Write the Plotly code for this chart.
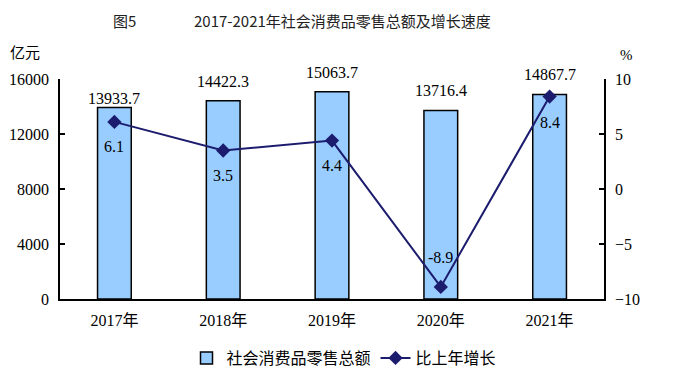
import plotly.graph_objects as go

years = ["2017年", "2018年", "2019年", "2020年", "2021年"]
retail = [13933.7, 14422.3, 15063.7, 13716.4, 14867.7]
growth = [6.1, 3.5, 4.4, -8.9, 8.4]
left_ticks = [0, 4000, 8000, 12000, 16000]
left_tick_text = ["0", "4000", "8000", "12000", "16000"]
right_ticks = [-10, -5, 0, 5, 10]
right_tick_text = ["\u221210", "\u22125", "0", "5", "10"]

# label offsets (pixels, style only)
bar_label_shift = [9, 19, 19, 20, 20]
line_label_shift = [-25, -25, -25, 29, -26]

SERIF = "Liberation Serif, Times New Roman, Noto Sans CJK SC, serif"
CJK = "Noto Sans CJK SC, sans-serif"
NAVY = "#1C1C6E"

OFF = 8  # page body margin
W, H = 691 - OFF, 389 - OFF
L, T = 60 - OFF, 79 - OFF
R = W - (604 - OFF)
B = H - (299 - OFF)
pw, ph = W - L - R, H - T - B


def px2paper(px, py):
    return (px - OFF - L) / pw, (H - B - (py - OFF)) / ph


fig = go.Figure()
fig.add_trace(go.Bar(
    x=years, y=retail, name="社会消费品零售总额",
    marker=dict(color="#99CCFF", line=dict(color="#000000", width=1.5)),
    width=0.31, yaxis="y",
))
fig.add_trace(go.Scatter(
    x=years, y=growth, name="比上年增长", yaxis="y2",
    mode="lines+markers",
    line=dict(color=NAVY, width=2),
    marker=dict(symbol="diamond", size=11, color=NAVY),
))

annotations = []
for xv, v, s in zip(years, retail, bar_label_shift):
    annotations.append(dict(x=xv, y=v, xref="x", yref="y", text=f"{v:.1f}",
                            showarrow=False, yshift=s, yanchor="middle",
                            font=dict(family=SERIF, size=16, color="#000")))
for xv, v, s in zip(years, growth, line_label_shift):
    annotations.append(dict(x=xv, y=v, xref="x", yref="y2", text=f"{v:.1f}",
                            showarrow=False, yshift=s, yanchor="middle",
                            font=dict(family=SERIF, size=16, color="#000")))
extra = [
    (124, 20, "图5", dict(family=CJK, size=15, color="#222222")),
    (342, 20, "2017-2021年社会消费品零售总额及增长速度", dict(family=CJK, size=15, color="#222222")),
    (25, 52, "亿元", dict(family=CJK, size=15, color="#000")),
    (626, 55, "%", dict(family=SERIF, size=15, color="#000")),
]
for px, py, txt, f in extra:
    ax, ay = px2paper(px, py)
    annotations.append(dict(x=ax, y=ay, xref="paper", yref="paper", text=txt,
                            showarrow=False, xanchor="center", yanchor="middle",
                            font=f))

lx, ly = px2paper(344, 358)

fig.update_layout(
    width=W, height=H,
    margin=dict(l=L, r=R, t=T, b=B, autoexpand=False),
    paper_bgcolor="white", plot_bgcolor="white",
    showlegend=True,
    legend=dict(orientation="h", x=lx, xanchor="center", y=ly, yanchor="middle",
                font=dict(family=CJK, size=16, color="#000"),
                itemwidth=30, tracegroupgap=0),
    xaxis=dict(showline=True, linecolor="#000", linewidth=1.5, ticks="",
               tickfont=dict(family=SERIF, size=16, color="#000"),
               showgrid=False, zeroline=False, automargin=False,
               ticklabelstandoff=6),
    yaxis=dict(range=[0, 16000], tickvals=left_ticks, ticktext=left_tick_text,
               showline=True, automargin=False,
               linecolor="#000", linewidth=1.5, ticks="inside", ticklen=5,
               tickcolor="#000", tickwidth=1.5, showgrid=False, zeroline=False,
               tickfont=dict(family=SERIF, size=16, color="#000"),
               ticklabelstandoff=6),
    yaxis2=dict(range=[-10, 10], tickvals=right_ticks, ticktext=right_tick_text,
                overlaying="y", side="right", showline=True, linecolor="#000",
                linewidth=1.5, ticks="inside", ticklen=5, tickcolor="#000",
                tickwidth=1.5, showgrid=False, zeroline=False, automargin=False,
                tickfont=dict(family=SERIF, size=16, color="#000"),
                ticklabelstandoff=6),
    annotations=annotations,
)

fig.write_html("out.html")
